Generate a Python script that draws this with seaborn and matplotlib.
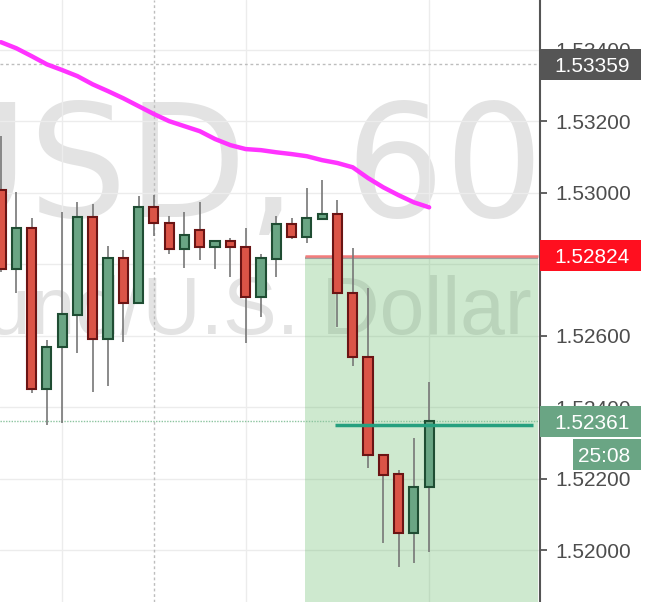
import matplotlib
matplotlib.use("Agg")
import pandas as pd
from matplotlib import pyplot as plt
from matplotlib.patches import Rectangle
import matplotlib.transforms as mtransforms
import seaborn as sns

# hourly candles
opens = [1.53007, 1.52786, 1.52901, 1.52450, 1.52568, 1.52657, 1.52931, 1.52590,
         1.52817, 1.52691, 1.52959, 1.52915, 1.52842, 1.52895, 1.52848, 1.52864,
         1.52848, 1.52708, 1.52814, 1.52912, 1.52876, 1.52926, 1.52940, 1.52719,
         1.52540, 1.52266, 1.52213, 1.52048, 1.52176]
highs = [1.53158, 1.53001, 1.52929, 1.52587, 1.52945, 1.52973, 1.52968, 1.52850,
         1.52839, 1.52990, 1.52993, 1.52934, 1.52945, 1.52973, 1.52864, 1.52873,
         1.52901, 1.52828, 1.52934, 1.52929, 1.53013, 1.53035, 1.52979, 1.52845,
         1.52733, 1.52269, 1.52224, 1.52313, 1.52470]
lows = [1.52778, 1.52719, 1.52439, 1.52350, 1.52355, 1.52551, 1.52442, 1.52459,
        1.52582, 1.52691, 1.52878, 1.52828, 1.52789, 1.52811, 1.52786, 1.52764,
        1.52579, 1.52652, 1.52764, 1.52870, 1.52859, 1.52926, 1.52624, 1.52515,
        1.52229, 1.52020, 1.51952, 1.51964, 1.51994]
closes = [1.52786, 1.52901, 1.52450, 1.52568, 1.52660, 1.52931, 1.52590, 1.52817,
          1.52691, 1.52959, 1.52915, 1.52842, 1.52881, 1.52848, 1.52864, 1.52848,
          1.52708, 1.52817, 1.52912, 1.52876, 1.52929, 1.52940, 1.52719, 1.52540,
          1.52266, 1.52210, 1.52048, 1.52176, 1.52361]
ma_values = [1.53421, 1.53404, 1.53382, 1.53359, 1.53343, 1.53326, 1.53303, 1.53284,
             1.53264, 1.53242, 1.53220, 1.53200, 1.53186, 1.53172, 1.53150, 1.53133,
             1.53122, 1.53119, 1.53113, 1.53108, 1.53102, 1.53091, 1.53083, 1.53071,
             1.53041, 1.53015, 1.52993, 1.52973, 1.52959]

tick_prices = [1.520, 1.522, 1.524, 1.526, 1.528, 1.530, 1.532, 1.534]
# 1.52800 is hidden behind the stop tag in the screenshot
tick_labels = ["1.52000", "1.52200", "1.52400", "1.52600", "",
               "1.53000", "1.53200", "1.53400"]

stop_price = 1.52824
entry_price = 1.52350
last_price = 1.52361
cross_price = 1.53359
cross_bar = 10
countdown = "25:08"
symbol = "GBPUSD, 60"
description = "British Pound/U.S. Dollar"

df = pd.DataFrame({"bar": range(len(opens)), "open": opens, "high": highs,
                   "low": lows, "close": closes, "ma": ma_values})
df["up"] = df["close"] >= df["open"]

sns.set_style("white")
plt.rcParams["font.family"] = ["Liberation Sans", "DejaVu Sans"]

fig = plt.figure(figsize=(6.5, 6.02), dpi=100)
ax = fig.add_axes([0, 0, 540 / 650, 1])
ax.set_xlim(-0.065, 35.25)
ax.set_ylim(1.51855, 1.53539)
y_span = 1.53539 - 1.51855

# grid / axis
ax.set_xticks([4, 16, 28])
ax.tick_params(axis="x", length=0, labelbottom=False)
ax.yaxis.tick_right()
ax.set_yticks(tick_prices)
ax.set_yticklabels(tick_labels)
ax.tick_params(axis="y", length=5, width=1.3, color="#555555", pad=6,
               labelsize=15, labelcolor="#4d4d4d")
ax.grid(True, color="#ececec", lw=1)
ax.set_axisbelow(True)
for side in ["left", "top", "bottom"]:
    ax.spines[side].set_visible(False)
ax.spines["right"].set_color("#555555")
ax.spines["right"].set_linewidth(1.5)

# watermark
ax.text(1.006, 0.6395, symbol, transform=ax.transAxes, ha="right", va="baseline",
        fontsize=112, color="#e3e3e3", family="DejaVu Sans", zorder=0.3, clip_on=True)
ax.text(0.985, 0.4452, description, transform=ax.transAxes, ha="right", va="baseline",
        fontsize=58, color="#e3e3e3", zorder=0.3, clip_on=True)

# position tool
ax.fill_between([19.88, 35.12], 1.51855, stop_price, color="#4caf50", alpha=0.27,
                lw=0, zorder=1)
below = mtransforms.offset_copy(ax.transData, fig=fig, y=-2.5, units="dots")
ax.hlines(stop_price, 19.88, 35.12, color="#a0a0a0", lw=1.5, transform=below, zorder=2)
ax.hlines(stop_price, 19.88, 35.12, color="#f47c7c", lw=1.8, zorder=2.1)

# crosshair and last price line
ax.axvline(cross_bar, color="#bdbdbd", lw=1, ls=(0, (2, 2)), zorder=1.5)
ax.axhline(cross_price, color="#bdbdbd", lw=1, ls=(0, (2, 2)), zorder=1.5)
ax.axhline(last_price, color="#8cc49f", lw=1, ls=(0, (1, 1)), zorder=1.5)

# candles
for up, grp in df.groupby("up"):
    fill, edge = ("#6aa584", "#1f4d33") if up else ("#db5447", "#6b1414")
    ax.vlines(grp["bar"], grp["low"], grp["high"], color="#777777", lw=1.2, zorder=3)
    ax.bar(grp["bar"], (grp["close"] - grp["open"]).abs(),
           bottom=grp[["open", "close"]].min(axis=1), width=0.6,
           color=fill, edgecolor=edge, linewidth=1.5, zorder=4)

ax.hlines(entry_price, 21.85, 34.8, color="#26a07f", lw=2.5, zorder=4.2)

sns.lineplot(data=df, x="bar", y="ma", ax=ax, color="#ff33ff", lw=3.2, zorder=4.5)
ax.set_xlabel("")
ax.set_ylabel("")

# price tags on the scale
blend = mtransforms.blended_transform_factory(ax.transAxes, ax.transData)
tag_h = y_span * 31 / 602


def price_tag(price, text, bg, x0=1.0):
    ax.add_patch(Rectangle((x0, price - tag_h / 2), 641 / 540 - x0, tag_h,
                           transform=blend, facecolor=bg, lw=0, clip_on=False, zorder=5))
    ax.text(630 / 540, price, text, transform=blend, ha="right", va="center_baseline",
            fontsize=15, color="white", clip_on=False, zorder=6)


price_tag(cross_price, f"{cross_price:.5f}", "#555555")
price_tag(stop_price, f"{stop_price:.5f}", "#ff0f1f")
price_tag(last_price, f"{last_price:.5f}", "#6aa584")
price_tag(last_price - y_span * 33 / 602, countdown, "#6aa584", x0=573 / 540)

fig.savefig("out.png", dpi=100)
